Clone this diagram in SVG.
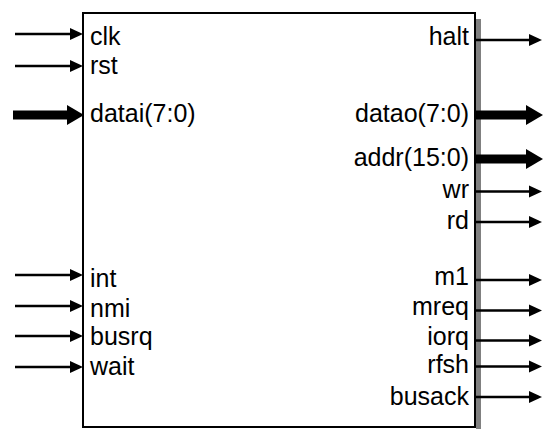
<svg xmlns="http://www.w3.org/2000/svg" width="547" height="429" viewBox="0 0 547 429">
  <style>
    .lbl { font-family: "Liberation Sans", Arial, sans-serif; font-size: 25px; fill: #000; }
    .r { text-anchor: end; }
    .thin { stroke: #000; stroke-width: 2.5; fill: none; marker-end: url(#headThin); }
    .bus { stroke: #000; stroke-width: 9; fill: none; marker-end: url(#headBus); }
  </style>
  <defs>
    <marker id="headThin" markerUnits="userSpaceOnUse" markerWidth="13" markerHeight="12" refX="2" refY="6" orient="auto" overflow="visible">
      <path d="M0,0 L13,6 L0,12 Z" fill="#000"/>
    </marker>
    <marker id="headBus" markerUnits="userSpaceOnUse" markerWidth="17" markerHeight="20" refX="2" refY="10" orient="auto" overflow="visible">
      <path d="M0,0 L17,10 L0,20 Z" fill="#000"/>
    </marker>
  </defs>
  <rect width="547" height="429" fill="#fff"/>
  <g id="cpu">
    <rect x="476" y="19" width="5" height="414" fill="#808080"/>
    <rect x="83" y="13" width="392" height="414" fill="#fff" stroke="#000" stroke-width="2"/>
    <text class="lbl" x="90" y="45">clk</text>
    <text class="lbl" x="90" y="74">rst</text>
    <text class="lbl" x="90" y="122">datai(7:0)</text>
    <text class="lbl" x="90" y="287">int</text>
    <text class="lbl" x="90" y="317">nmi</text>
    <text class="lbl" x="90" y="345">busrq</text>
    <text class="lbl" x="90" y="375">wait</text>
    <text class="lbl r" x="469" y="45">halt</text>
    <text class="lbl r" x="469" y="122">datao(7:0)</text>
    <text class="lbl r" x="469" y="166">addr(15:0)</text>
    <text class="lbl r" x="469" y="198">wr</text>
    <text class="lbl r" x="469" y="229">rd</text>
    <text class="lbl r" x="469" y="285">m1</text>
    <text class="lbl r" x="469" y="315">mreq</text>
    <text class="lbl r" x="469" y="345">iorq</text>
    <text class="lbl r" x="469" y="373">rfsh</text>
    <text class="lbl r" x="469" y="405">busack</text>
  </g>
  <g id="connectors">
    <line class="thin" x1="15" y1="34" x2="72" y2="34"/>
    <line class="thin" x1="15" y1="66" x2="72" y2="66"/>
    <line class="bus" x1="13" y1="115" x2="69" y2="115"/>
    <line class="thin" x1="15" y1="275" x2="72" y2="275"/>
    <line class="thin" x1="15" y1="306" x2="72" y2="306"/>
    <line class="thin" x1="15" y1="336" x2="72" y2="336"/>
    <line class="thin" x1="15" y1="367" x2="72" y2="367"/>
    <line class="thin" x1="476" y1="40" x2="531" y2="40"/>
    <line class="bus" x1="476" y1="115" x2="528" y2="115"/>
    <line class="bus" x1="476" y1="159" x2="528" y2="159"/>
    <line class="thin" x1="476" y1="191.5" x2="531" y2="191.5"/>
    <line class="thin" x1="476" y1="222" x2="531" y2="222"/>
    <line class="thin" x1="476" y1="280" x2="531" y2="280"/>
    <line class="thin" x1="476" y1="310.5" x2="531" y2="310.5"/>
    <line class="thin" x1="476" y1="340.5" x2="531" y2="340.5"/>
    <line class="thin" x1="476" y1="366.5" x2="531" y2="366.5"/>
    <line class="thin" x1="476" y1="397" x2="531" y2="397"/>
  </g>
</svg>
